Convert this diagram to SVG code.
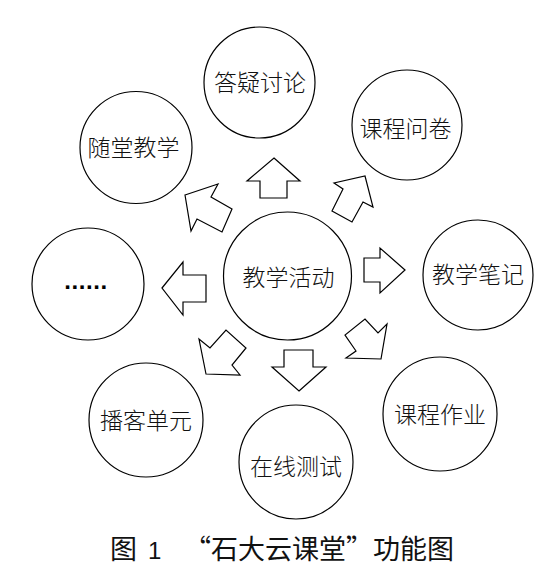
<svg xmlns="http://www.w3.org/2000/svg" width="552" height="571" viewBox="0 0 552 571">
<style>
.n{fill:#fff;stroke:#000;stroke-width:1.2}
.t{font-family:"Noto Sans CJK SC","Noto Sans CJK JP",sans-serif;font-weight:300;font-size:23px;fill:#111;text-anchor:middle;dominant-baseline:central}
.a{fill:#fff;stroke:#000;stroke-width:1.2;stroke-linejoin:miter}
.c{font-family:"Noto Sans CJK SC",sans-serif;font-size:27px;fill:#111}
</style>
<rect width="552" height="571" fill="#fff"/>
<g id="connectors">
<polygon class="a" points="274,158 300,181 287,181 287,198 260,198 260,181 247,181"/>
<polygon class="a" points="162,288 183,262 183,275 206,275 206,302 183,302 183,315"/>
<polygon class="a" points="405,270 380,248 380,258 364,258 364,282 380,282 380,293"/>
<polygon class="a" points="299,391 326,367 313,367 313,350 284,350 284,367 272,367"/>
<polygon class="a" points="365,176 373,207 363,202 352,222 332,211 343,189 334,183"/>
<polygon class="a" points="185,195 218,184 211,197 232,209 222,232 197,219 191,231"/>
<polygon class="a" points="381,359 387,324 378,333 365,319 345,335 356,351 346,358"/>
<polygon class="a" points="206,374 199,339 210,348 226,330 246,348 232,365 240,375"/>
</g>
<g id="center"><circle class="n" cx="287.5" cy="276" r="64"/><text class="t" x="288.5" y="276">教学活动</text></g>
<g id="dayi"><circle class="n" cx="259.5" cy="82.5" r="55.5"/><text class="t" x="260" y="81">答疑讨论</text></g>
<g id="wenjuan"><circle class="n" cx="407" cy="125" r="55"/><text class="t" x="405.5" y="127">课程问卷</text></g>
<g id="suitang"><circle class="n" cx="136" cy="147.5" r="56"/><text class="t" x="133.5" y="146">随堂教学</text></g>
<g id="biji"><circle class="n" cx="478" cy="275" r="55"/><text class="t" x="478" y="273">教学笔记</text></g>
<g id="zuoye"><circle class="n" cx="440" cy="414" r="57"/><text class="t" x="440" y="413">课程作业</text></g>
<g id="ceshi"><circle class="n" cx="296" cy="462" r="57"/><text class="t" x="296" y="465">在线测试</text></g>
<g id="boke"><circle class="n" cx="146" cy="420" r="57"/><text class="t" x="146" y="419">播客单元</text></g>
<g id="more"><circle class="n" cx="88" cy="284" r="56"/><text x="86" y="289" style="font-family:'Liberation Sans',sans-serif;font-weight:bold;font-size:24px;letter-spacing:0.6px;text-anchor:middle">......</text></g>
<g id="caption">
<text class="c" x="110" y="559">图</text>
<text x="148" y="559" style="font-family:'Liberation Sans',sans-serif;font-size:24px;fill:#111">1</text>
<text class="c" x="184" y="559">“石大云课堂”功能图</text>
</g>
</svg>
